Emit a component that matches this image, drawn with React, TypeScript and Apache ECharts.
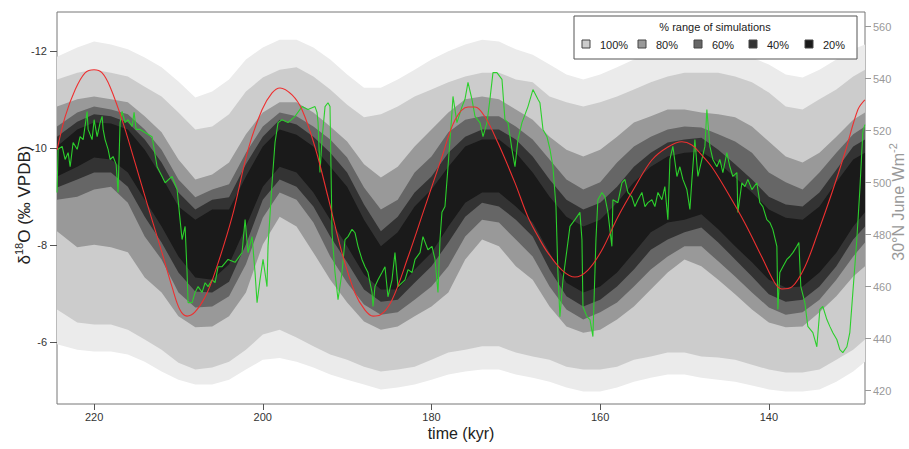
import React, { useEffect, useRef } from "react";
import * as echarts from "echarts";

const FONT = "'Liberation Sans', Arial, Helvetica, sans-serif";

// time axis samples (kyr) for the simulation envelopes
const TIME = [
  224.4, 222, 220, 218, 216, 214, 212, 210, 208, 206,
  204, 202, 200, 198, 196, 194, 192, 190, 188, 186,
  184, 182, 180, 178, 176, 174, 172, 170, 168, 166,
  164, 162, 160, 158, 156, 154, 152, 150, 148, 146,
  144, 142, 140, 138, 136, 134, 132, 130, 128.6,
];

// tips of the outermost simulation spikes (d18O, permil)
const TIP_TOP = [
  -11.88, -12.07, -12.19, -12.13, -12.03, -11.86, -11.66, -11.37, -11.04, -11.16,
  -11.41, -11.82, -12.07, -12.23, -12.23, -12.07, -11.82, -11.51, -11.24, -11.24,
  -11.41, -11.61, -11.82, -11.99, -12.13, -12.23, -12.19, -12.03, -11.92, -11.72,
  -11.51, -11.41, -11.51, -11.66, -11.82, -11.92, -12.03, -12.13, -12.13, -12.07,
  -11.99, -11.86, -11.72, -11.51, -11.45, -11.61, -11.82, -12.03, -12.13,
];
const TIP_BOT = [
  -5.95, -5.84, -5.8, -5.8, -5.74, -5.59, -5.39, -5.22, -5.12, -5.12,
  -5.22, -5.43, -5.63, -5.67, -5.59, -5.47, -5.33, -5.22, -5.12, -5.02,
  -5.06, -5.12, -5.22, -5.33, -5.39, -5.43, -5.43, -5.33, -5.26, -5.18,
  -5.06, -4.98, -4.98, -5.06, -5.18, -5.26, -5.33, -5.33, -5.26, -5.22,
  -5.18, -5.1, -5.02, -4.98, -4.98, -5.02, -5.18, -5.39, -5.59,
];

// envelope edges (d18O, permil) – "TOP" is the more negative edge
const TOP_100 = [
  -11.41, -11.55, -11.61, -11.55, -11.47, -11.26, -11.06, -10.73, -10.38, -10.44,
  -10.69, -11.16, -11.45, -11.61, -11.66, -11.47, -11.2, -10.89, -10.63, -10.69,
  -10.85, -11.06, -11.2, -11.35, -11.47, -11.55, -11.55, -11.41, -11.35, -11.06,
  -10.94, -10.85, -10.94, -11.06, -11.2, -11.35, -11.47, -11.55, -11.55, -11.55,
  -11.47, -11.35, -11.14, -10.85, -10.79, -11.0, -11.2, -11.47, -11.61,
];
const TOP_80 = [
  -10.85, -11.0, -11.06, -11.0, -10.94, -10.65, -10.32, -9.76, -9.35, -9.45,
  -9.7, -10.28, -10.73, -10.94, -10.94, -10.73, -10.44, -10.13, -9.66, -9.39,
  -9.61, -10.03, -10.38, -10.73, -11.0, -11.06, -11.0, -10.79, -10.58, -10.23,
  -9.96, -9.82, -9.96, -10.23, -10.52, -10.65, -10.79, -10.79, -10.73, -10.69,
  -10.63, -10.44, -10.13, -9.82, -9.7, -9.9, -10.23, -10.58, -10.73,
];
const TOP_60 = [
  -10.44, -10.73, -10.85, -10.79, -10.69, -10.38, -9.96, -9.35, -8.98, -9.14,
  -9.25, -9.9, -10.44, -10.73, -10.65, -10.44, -10.17, -9.8, -9.18, -8.73,
  -8.93, -9.49, -9.82, -10.32, -10.58, -10.65, -10.65, -10.44, -10.17, -9.76,
  -9.35, -9.14, -9.29, -9.7, -10.03, -10.23, -10.38, -10.44, -10.42, -10.28,
  -10.13, -9.9, -9.49, -9.29, -9.14, -9.49, -9.9, -10.28, -10.44,
];
const TOP_40 = [
  -10.23, -10.54, -10.69, -10.65, -10.52, -10.17, -9.7, -9.08, -8.73, -8.93,
  -8.98, -9.66, -10.23, -10.58, -10.48, -10.23, -9.9, -9.49, -8.83, -8.28,
  -8.58, -9.08, -9.41, -9.9, -10.23, -10.38, -10.38, -10.17, -9.82, -9.35,
  -8.93, -8.73, -8.87, -9.2, -9.61, -9.9, -10.11, -10.17, -10.21, -9.96,
  -9.66, -9.35, -8.99, -8.83, -8.79, -9.08, -9.55, -10.03, -10.17,
];
const TOP_20 = [
  -10.03, -10.38, -10.52, -10.5, -10.38, -9.96, -9.41, -8.79, -8.52, -8.73,
  -8.73, -9.41, -10.03, -10.38, -10.27, -10.03, -9.61, -9.2, -8.52, -7.97,
  -8.26, -8.79, -9.14, -9.61, -10.03, -10.17, -10.17, -9.9, -9.49, -8.99,
  -8.58, -8.38, -8.52, -8.87, -9.29, -9.61, -9.82, -9.9, -9.92, -9.7,
  -9.39, -9.08, -8.73, -8.56, -8.52, -8.79, -9.29, -9.76, -9.9,
];
const BOT_20 = [
  -9.41, -9.61, -9.8, -9.76, -9.49, -8.93, -8.38, -7.76, -7.33, -7.28,
  -7.6, -8.38, -9.2, -9.61, -9.49, -9.08, -8.52, -7.97, -7.39, -7.08,
  -7.08, -7.49, -7.84, -8.38, -8.87, -9.08, -9.08, -8.79, -8.46, -7.84,
  -7.22, -7.02, -7.14, -7.43, -7.84, -8.26, -8.46, -8.52, -8.63, -8.32,
  -7.97, -7.64, -7.28, -7.12, -7.14, -7.43, -7.84, -8.38, -8.67,
];
const BOT_40 = [
  -9.18, -9.35, -9.49, -9.49, -9.2, -8.58, -8.05, -7.43, -7.04, -7.02,
  -7.24, -8.01, -8.93, -9.35, -9.2, -8.79, -8.17, -7.64, -7.08, -6.83,
  -6.87, -7.22, -7.56, -8.05, -8.58, -8.87, -8.79, -8.52, -8.17, -7.49,
  -6.94, -6.73, -6.87, -7.14, -7.49, -7.9, -8.11, -8.26, -8.36, -8.05,
  -7.7, -7.35, -6.98, -6.83, -6.87, -7.14, -7.56, -8.11, -8.38,
];
const BOT_60 = [
  -8.93, -8.99, -9.14, -9.2, -8.87, -8.17, -7.7, -7.02, -6.71, -6.73,
  -6.94, -7.6, -8.56, -9.08, -8.93, -8.46, -7.76, -7.22, -6.77, -6.56,
  -6.61, -6.87, -7.14, -7.56, -8.17, -8.52, -8.46, -8.11, -7.76, -7.14,
  -6.67, -6.46, -6.61, -6.81, -7.14, -7.49, -7.76, -7.97, -7.97, -7.66,
  -7.35, -7.02, -6.71, -6.56, -6.61, -6.87, -7.28, -7.76, -8.05,
];
const BOT_80 = [
  -8.28, -7.95, -8.0, -7.95, -7.85, -7.33, -7.02, -6.53, -6.3, -6.32,
  -6.53, -7.02, -8.01, -8.58, -8.38, -7.84, -7.28, -6.81, -6.42, -6.25,
  -6.32, -6.53, -6.73, -7.02, -7.7, -8.11, -7.97, -7.56, -7.28, -6.73,
  -6.32, -6.19, -6.25, -6.46, -6.73, -7.08, -7.43, -7.7, -7.56, -7.28,
  -6.98, -6.67, -6.4, -6.3, -6.32, -6.61, -6.94, -7.35, -7.56,
];
const BOT_100 = [
  -6.67, -6.4, -6.36, -6.36, -6.25, -6.05, -5.84, -5.57, -5.43, -5.47,
  -5.59, -5.84, -6.15, -6.25, -6.09, -5.91, -5.74, -5.63, -5.49, -5.39,
  -5.43, -5.49, -5.63, -5.78, -5.84, -5.91, -5.91, -5.78, -5.7, -5.63,
  -5.49, -5.43, -5.43, -5.49, -5.63, -5.7, -5.78, -5.78, -5.7, -5.68,
  -5.63, -5.53, -5.43, -5.37, -5.37, -5.43, -5.63, -5.84, -6.05,
];

const LEGEND_LABELS = ["100%", "80%", "60%", "40%", "20%"];
const BAND_COLORS = ["#cccccc", "#999999", "#666666", "#333333", "#1a1a1a"];
const TIP_COLOR = "#ebebeb";

// speleothem d18O record [time kyr, d18O]
const RECORD = [
  [224.39, -9.08], [224.27, -9.97], [223.79, -10.03], [223.44, -9.76], [223.08, -9.9],
  [222.84, -9.61], [222.49, -10.11], [222.01, -9.97], [221.66, -10.23], [221.3, -10.17],
  [220.83, -10.75], [220.71, -10.38], [220.24, -10.17], [220.0, -10.58], [219.64, -10.23],
  [219.29, -10.52], [219.05, -10.65], [218.93, -10.38], [218.7, -10.17], [218.34, -9.97],
  [218.1, -9.76], [217.75, -9.82], [217.39, -9.66], [217.16, -9.08], [216.92, -10.52],
  [216.68, -10.75], [216.33, -10.52], [215.97, -10.58], [215.5, -10.44], [215.26, -10.73],
  [215.02, -10.38], [214.55, -10.38], [213.13, -10.23], [212.53, -9.61], [211.94, -9.41],
  [211.58, -9.28], [210.76, -9.41], [210.16, -9.14], [209.81, -8.52], [209.57, -8.11],
  [209.21, -8.38], [208.98, -7.43], [208.86, -6.81], [208.38, -6.81], [208.03, -7.02],
  [207.67, -7.14], [207.2, -7.02], [206.84, -7.22], [206.49, -7.14], [206.01, -7.28],
  [205.66, -7.22], [205.3, -7.55], [204.83, -7.55], [204.12, -7.7], [203.29, -7.64],
  [202.46, -7.84], [202.1, -8.52], [201.75, -7.84], [201.27, -8.17], [200.92, -7.43],
  [200.68, -6.81], [200.33, -7.28], [199.97, -7.7], [199.5, -7.14], [199.38, -7.97],
  [198.9, -9.28], [198.55, -10.11], [198.19, -10.52], [197.72, -10.58], [197.01, -10.52],
  [196.18, -10.65], [195.35, -10.85], [194.64, -10.79], [193.81, -10.85], [193.57, -10.73],
  [193.45, -10.52], [193.22, -9.49], [192.98, -10.17], [192.62, -10.85], [192.27, -10.93],
  [192.03, -10.85], [191.79, -8.25], [191.44, -7.43], [191.08, -6.87], [190.61, -7.43],
  [190.25, -8.11], [189.9, -8.17], [189.42, -8.32], [189.07, -8.25], [188.71, -7.97],
  [188.24, -7.7], [187.88, -7.55], [187.53, -7.43], [187.05, -7.02], [186.93, -6.73],
  [186.7, -7.14], [186.34, -7.28], [185.87, -7.43], [185.51, -7.55], [185.16, -6.93],
  [184.68, -7.28], [184.33, -7.84], [183.97, -7.14], [183.14, -7.28], [182.78, -7.49],
  [182.31, -7.43], [181.95, -7.7], [181.36, -7.84], [181.01, -8.17], [180.42, -7.9],
  [179.94, -7.97], [179.58, -7.7], [179.23, -7.02], [178.99, -8.11], [178.76, -8.67],
  [178.4, -8.79], [178.04, -9.61], [177.57, -10.73], [177.45, -11.06], [176.98, -10.52],
  [176.38, -10.85], [176.03, -11.0], [175.67, -11.35], [175.2, -11.0], [174.84, -10.65],
  [174.25, -10.52], [173.89, -10.23], [173.42, -10.52], [173.07, -11.0], [172.71, -11.55],
  [172.24, -11.55], [171.64, -11.41], [171.29, -10.58], [170.93, -10.52], [170.46, -9.97],
  [170.1, -9.61], [169.75, -10.17], [169.27, -10.52], [168.56, -10.85], [167.97, -11.2],
  [167.38, -11.0], [167.14, -10.93], [166.78, -10.38], [166.31, -10.23], [165.95, -9.97],
  [165.6, -9.61], [165.24, -8.79], [165.01, -7.43], [164.77, -6.52], [164.41, -7.28],
  [163.94, -7.9], [163.58, -8.38], [162.99, -8.52], [162.4, -8.67], [162.16, -8.11],
  [162.04, -6.73], [161.57, -6.52], [161.21, -6.46], [160.86, -6.11], [160.5, -8.11],
  [160.27, -8.93], [159.79, -9.08], [159.44, -8.99], [159.08, -8.67], [158.61, -7.97],
  [158.49, -8.93], [157.9, -8.87], [157.42, -9.28], [157.07, -9.35], [156.71, -9.08],
  [156.24, -8.99], [155.88, -8.79], [155.52, -8.93], [155.05, -9.08], [154.69, -8.79],
  [154.34, -8.87], [153.87, -8.93], [153.51, -8.79], [153.15, -9.08], [152.68, -8.93],
  [152.33, -9.2], [151.97, -8.52], [151.73, -9.76], [151.38, -10.03], [150.9, -9.41],
  [150.55, -9.61], [150.19, -9.35], [149.72, -9.14], [149.36, -8.73], [149.12, -9.35],
  [148.77, -10.17], [148.41, -9.41], [147.94, -9.76], [147.58, -10.03], [147.35, -10.79],
  [146.99, -10.03], [146.64, -9.76], [146.16, -9.61], [145.81, -9.76], [145.45, -9.49],
  [144.98, -9.9], [144.62, -9.61], [144.27, -9.41], [143.79, -9.49], [143.67, -8.67],
  [143.2, -9.28], [142.84, -9.2], [142.49, -9.35], [142.01, -9.14], [141.42, -9.28],
  [141.07, -8.87], [140.71, -8.79], [140.24, -8.52], [139.88, -8.46], [139.53, -8.32],
  [139.05, -7.97], [138.93, -6.67], [138.7, -7.43], [138.34, -7.55], [137.87, -7.7],
  [137.51, -7.76], [137.15, -7.84], [136.68, -7.97], [136.44, -8.05], [136.21, -7.14],
  [135.73, -6.81], [135.38, -6.32], [134.78, -6.19], [134.31, -5.9], [133.95, -6.67],
  [133.6, -6.73], [133.12, -6.46], [132.77, -6.32], [132.41, -6.19], [131.94, -6.05],
  [131.58, -5.84], [131.23, -5.78], [130.75, -5.9], [130.4, -6.19], [130.04, -7.02],
  [129.57, -8.11], [129.21, -9.14], [128.86, -10.32], [128.62, -10.48],
];

// 30N June insolation [time kyr, W m-2]
const INSOLATION = [
  [224.39, 512.6], [223.44, 525.3], [222.25, 535.7], [221.07, 542.2], [220.0, 543.4],
  [219.05, 542.2], [218.1, 536.8], [216.68, 524.1], [215.14, 507.6], [213.6, 490.7],
  [211.94, 473.0], [210.76, 459.9], [209.81, 451.0], [208.98, 448.7], [208.03, 450.3],
  [206.84, 456.0], [205.66, 465.6], [203.64, 486.8], [201.75, 512.6], [200.09, 528.0],
  [198.9, 534.5], [197.96, 536.4], [196.53, 533.7], [195.35, 528.0], [193.81, 513.7],
  [192.27, 494.5], [190.61, 473.0], [189.07, 457.6], [187.88, 451.0], [186.93, 448.7],
  [186.1, 449.1], [184.68, 454.9], [182.78, 471.4], [180.77, 490.7], [178.76, 509.9],
  [177.21, 524.1], [175.67, 529.1], [174.84, 529.1], [173.66, 525.3], [172.12, 515.3],
  [170.1, 499.9], [168.56, 486.8], [167.14, 478.0], [166.19, 473.0], [164.53, 466.4],
  [163.0, 463.7], [161.45, 466.4], [159.79, 474.1], [157.9, 486.8], [155.88, 498.3],
  [153.87, 508.7], [151.97, 513.7], [150.31, 515.7], [149.13, 514.5], [148.18, 511.4],
  [146.76, 506.0], [144.86, 496.0], [142.85, 484.5], [140.83, 471.4], [139.29, 461.4],
  [138.46, 459.1], [137.27, 459.9], [135.73, 467.6], [134.19, 480.7], [132.53, 496.0],
  [130.99, 511.4], [129.45, 528.0], [128.62, 531.8],
];

const X_TICKS = [140, 160, 180, 200, 220];
const Y_TICKS = [-12, -10, -8, -6];
const W_TICKS = [420, 440, 460, 480, 500, 520, 540, 560];

const BAND_TOPS = [TOP_100, TOP_80, TOP_60, TOP_40, TOP_20];
const BAND_BOTS = [BOT_100, BOT_80, BOT_60, BOT_40, BOT_20];

function bandSeries(top: number[], bot: number[], color: string) {
  return {
    type: "custom",
    xAxisIndex: 0,
    yAxisIndex: 0,
    silent: true,
    clip: true,
    z: 1,
    data: [[TIME[0], top[0]]],
    renderItem: (_params: any, api: any) => {
      const pts: number[][] = [];
      for (let i = 0; i < TIME.length; i++) pts.push(api.coord([TIME[i], top[i]]));
      for (let i = TIME.length - 1; i >= 0; i--) pts.push(api.coord([TIME[i], bot[i]]));
      return { type: "polygon", shape: { points: pts }, style: { fill: color } };
    },
  };
}

export default function App() {
  const ref = useRef<HTMLDivElement>(null);
  useEffect(() => {
    document.body.style.margin = "0";
    if (!ref.current) return;
    const chart = echarts.init(ref.current, undefined, { renderer: "svg" });

    const legendX = [586, 642, 698, 753, 809];
    const legendItems: any[] = [
      {
        type: "rect",
        z: 100,
        shape: { x: 574, y: 16, width: 283, height: 43 },
        style: { fill: "#ffffff", stroke: "#555", lineWidth: 1 },
      },
      {
        type: "text",
        z: 101,
        x: 715,
        y: 27,
        style: { text: "% range of simulations", fontSize: 11, fontFamily: FONT, fill: "#222", align: "center", verticalAlign: "middle" },
      },
    ];
    LEGEND_LABELS.forEach((lab, i) => {
      legendItems.push({
        type: "rect",
        z: 101,
        shape: { x: legendX[i] - 4, y: 40, width: 8, height: 8 },
        style: { fill: BAND_COLORS[i], stroke: "#444", lineWidth: 1 },
      });
      legendItems.push({
        type: "text",
        z: 101,
        x: legendX[i] + 14,
        y: 44.5,
        style: { text: lab, fontSize: 11, fontFamily: FONT, fill: "#222", verticalAlign: "middle", align: "left" },
      });
    });

    const option: any = {
      animation: false,
      backgroundColor: "#ffffff",
      grid: {
        left: 57,
        right: 44,
        top: 12,
        bottom: 45,
        show: true,
        borderColor: "#777777",
        borderWidth: 1,
        backgroundColor: "transparent",
      },
      xAxis: {
        type: "value",
        inverse: true,
        min: 128.6,
        max: 224.4,
        axisLine: { show: false },
        splitLine: { show: false },
        axisTick: { show: true, length: 6, customValues: X_TICKS, lineStyle: { color: "#555" } },
        axisLabel: { customValues: X_TICKS, margin: 7, fontSize: 11, fontFamily: FONT, color: "#333" },
      },
      yAxis: [
        {
          type: "value",
          inverse: true,
          min: -12.8,
          max: -4.72,
          axisLine: { show: false },
          splitLine: { show: false },
          axisTick: { show: true, length: 7, customValues: Y_TICKS, lineStyle: { color: "#555" } },
          axisLabel: { customValues: Y_TICKS, margin: 10, fontSize: 11, fontFamily: FONT, color: "#333" },
        },
        {
          type: "value",
          position: "right",
          min: 414.9,
          max: 565.6,
          axisLine: { show: false },
          splitLine: { show: false },
          axisTick: { show: true, length: 6, customValues: W_TICKS, lineStyle: { color: "#999" } },
          axisLabel: { customValues: W_TICKS, margin: 8, fontSize: 11, fontFamily: FONT, color: "#999" },
        },
      ],
      series: [
        bandSeries(TIP_TOP, TIP_BOT, TIP_COLOR),
        ...BAND_COLORS.map((c, i) => bandSeries(BAND_TOPS[i], BAND_BOTS[i], c)),
        {
          type: "line",
          xAxisIndex: 0,
          yAxisIndex: 0,
          data: RECORD,
          showSymbol: false,
          symbol: "none",
          silent: true,
          lineStyle: { color: "#2ccf2c", width: 1.1 },
          z: 3,
        },
        {
          type: "line",
          xAxisIndex: 0,
          yAxisIndex: 1,
          data: INSOLATION,
          smooth: 0.35,
          showSymbol: false,
          symbol: "none",
          silent: true,
          lineStyle: { color: "#ee3030", width: 1.1 },
          z: 4,
        },
      ],
      graphic: [
        ...legendItems,
        {
          type: "text",
          z: 100,
          x: 461,
          y: 433,
          style: { text: "time (kyr)", fontSize: 16, fontFamily: FONT, fill: "#222", align: "center", verticalAlign: "middle" },
        },
        {
          type: "text",
          z: 100,
          x: 24,
          y: 205,
          rotation: Math.PI / 2,
          style: {
            text: "{a|δ}{s|18}{a|O (‰ VPDB)}",
            align: "center",
            verticalAlign: "middle",
            rich: {
              a: { fontSize: 17, fontFamily: FONT, fill: "#222", lineHeight: 22 },
              s: { fontSize: 11, fontFamily: FONT, fill: "#222", lineHeight: 12, verticalAlign: "top" },
            },
          },
        },
        {
          type: "text",
          z: 100,
          x: 898,
          y: 202,
          rotation: Math.PI / 2,
          style: {
            text: "{a|30°N June Wm}{s|-2}",
            align: "center",
            verticalAlign: "middle",
            rich: {
              a: { fontSize: 16, fontFamily: FONT, fill: "#999", lineHeight: 22 },
              s: { fontSize: 11, fontFamily: FONT, fill: "#999", lineHeight: 12, verticalAlign: "top" },
            },
          },
        },
      ],
    };
    chart.setOption(option);
    return () => chart.dispose();
  }, []);
  return <div ref={ref} style={{ width: 909, height: 449 }} />;
}
